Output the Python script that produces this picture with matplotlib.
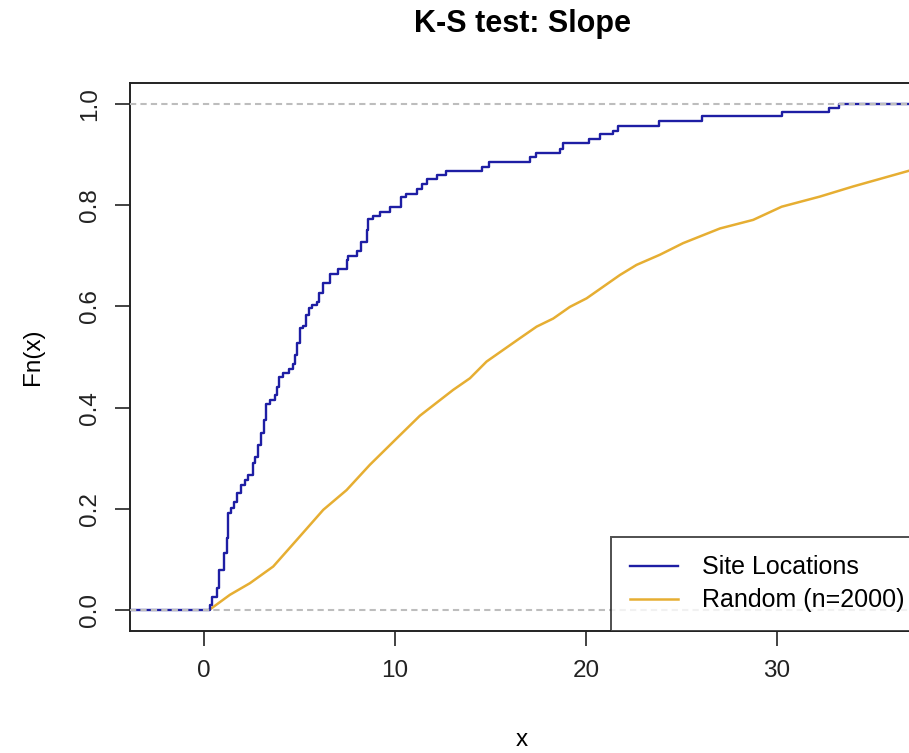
import numpy as np
import matplotlib
matplotlib.use("Agg")
import matplotlib.pyplot as plt

plt.rcParams["font.family"] = ["Liberation Sans", "DejaVu Sans"]

# Site Locations ECDF: jump positions and the Fn value after each jump
site_x = [0.30, 0.42, 0.65, 0.77, 1.05, 1.18, 1.26, 1.40, 1.58, 1.73,
          1.91, 2.14, 2.28, 2.57, 2.66, 2.80, 2.97, 3.15, 3.24, 3.45,
          3.71, 3.80, 3.93, 4.11, 4.46, 4.63, 4.75, 4.87, 5.02, 5.19,
          5.33, 5.50, 5.63, 5.89, 6.03, 6.24, 6.59, 7.02, 7.46, 7.54,
          8.02, 8.21, 8.51, 8.59, 8.85, 9.20, 9.73, 10.30, 10.55, 11.16,
          11.39, 11.65, 12.17, 12.66, 14.53, 14.93, 17.09, 17.36, 18.63, 18.80,
          20.15, 20.72, 21.42, 21.68, 23.83, 26.05, 30.24, 32.73, 33.25]
site_f = [0.010, 0.026, 0.043, 0.079, 0.112, 0.142, 0.191, 0.201, 0.214, 0.232,
          0.247, 0.257, 0.267, 0.290, 0.303, 0.326, 0.349, 0.375, 0.408, 0.416,
          0.425, 0.441, 0.461, 0.469, 0.477, 0.486, 0.504, 0.527, 0.557, 0.561,
          0.583, 0.596, 0.603, 0.609, 0.626, 0.647, 0.664, 0.673, 0.692, 0.700,
          0.710, 0.728, 0.751, 0.772, 0.779, 0.787, 0.796, 0.816, 0.822, 0.832,
          0.842, 0.851, 0.860, 0.868, 0.876, 0.886, 0.895, 0.903, 0.912, 0.922,
          0.930, 0.941, 0.947, 0.957, 0.966, 0.976, 0.984, 0.992, 1.000]

# Random (n=2000) ECDF
rand_x = [0.30, 1.35, 2.40, 3.62, 4.84, 6.24, 7.46, 8.68, 10.08, 11.30,
          13.04, 13.92, 14.79, 15.66, 16.53, 17.41, 18.28, 19.15, 20.03, 20.90,
          21.77, 22.64, 23.86, 25.08, 27.01, 28.75, 30.24, 32.24, 33.98, 36.90, 37.30]
rand_f = [0.001, 0.030, 0.053, 0.086, 0.138, 0.198, 0.237, 0.287, 0.339, 0.384,
          0.435, 0.458, 0.491, 0.514, 0.537, 0.560, 0.576, 0.599, 0.616, 0.639,
          0.662, 0.682, 0.702, 0.725, 0.754, 0.771, 0.797, 0.817, 0.837, 0.868, 0.873]

x_ticks = [0, 10, 20, 30]
y_ticks = [0.0, 0.2, 0.4, 0.6, 0.8, 1.0]
y_tick_labels = ["0.0", "0.2", "0.4", "0.6", "0.8", "1.0"]

BLUE = "#1e1ea4"
GOLD = "#e6ae32"
FS = 17.5

fig = plt.figure(figsize=(9.09, 7.53), dpi=100)
# right edge of the plot box sits just past the picture edge, as in the original
ax = fig.add_axes([130 / 909, 122 / 753, 784 / 909, 548 / 753])
ax.set_xlim(-3.88, 37.17)
ax.set_ylim(-0.0415, 1.0415)
x0, x1 = ax.get_xlim()

ax.plot(rand_x, rand_f, color=GOLD, lw=1.8, label="Random (n=2000)", zorder=2)
ax.step([x0] + site_x + [x1], [0] + site_f + [site_f[-1]], where="post",
        color=BLUE, lw=1.7, label="Site Locations", zorder=3)

for h in (0, 1):
    ax.axhline(h, color="#bdbdbd", lw=1.5, dashes=(3, 2), zorder=4)

ax.set_xticks(x_ticks)
ax.set_yticks(y_ticks)
ax.set_yticklabels(y_tick_labels, rotation=90, va="center")
ax.tick_params(length=10.8, width=1.2, labelsize=FS, pad=10, colors="#222222")
for s in ax.spines.values():
    s.set_linewidth(1.4)
    s.set_color("#222222")

ax.set_xlabel("x", fontsize=FS)
ax.xaxis.set_label_coords(0.5, -0.199)
ax.xaxis.label.set_va("center")
ax.set_ylabel("Fn(x)", fontsize=FS)
ax.yaxis.set_label_coords(-0.1237, 0.5)
ax.yaxis.label.set_va("center")

fig.text(522 / 909, 1 - 24 / 753, "K-S test: Slope", ha="center", va="center",
         fontsize=22, fontweight="bold")

handles, labels = ax.get_legend_handles_labels()
leg = ax.legend(handles[::-1], labels[::-1], loc="lower left",
                bbox_to_anchor=((611 - 130) / 784, 0), borderaxespad=0,
                prop={"size": 18}, frameon=True, fancybox=False, borderpad=0.75,
                handlelength=1.95, handletextpad=0.95, labelspacing=0.35)
leg.get_frame().set_edgecolor("#222222")
leg.get_frame().set_linewidth(1.4)
leg.set_zorder(5)

fig.savefig("out.png", dpi=100)
